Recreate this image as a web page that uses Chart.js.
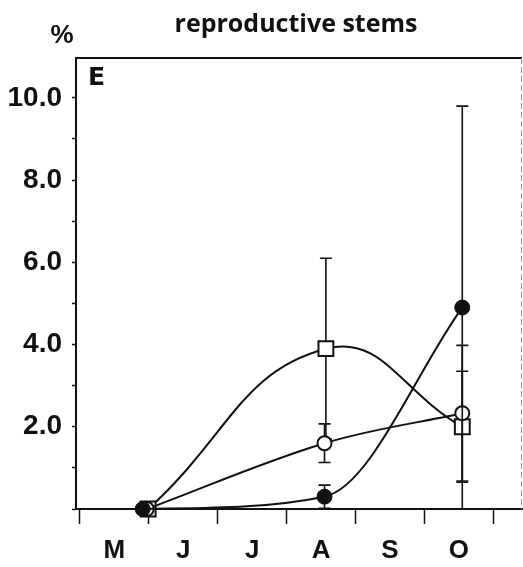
<!DOCTYPE html>
<html>
<head>
<meta charset="utf-8">
<script src="https://cdn.jsdelivr.net/npm/chart.js@4/dist/chart.umd.min.js"></script>
<style>
  html, body { margin: 0; padding: 0; background: #fff; }
  canvas { display: block; }
</style>
</head>
<body>
<canvas id="c" width="523" height="567"></canvas>
<script>
// Month initials, May to October (x = months since 1 May)
const months = ['M', 'J', 'J', 'A', 'S', 'O'];
// y tick labels shown every 2 %
const yLabelValues = [2, 4, 6, 8, 10];

// Open squares
const squareX = [0.99, 3.57, 5.55];
const squareY = [0, 3.9, 2.0];
const squareErr = [0, 2.2, 1.35];

// Open circles
const openX = [0.97, 3.55, 5.55];
const openY = [0, 1.6, 2.33];
const openErr = [0, 0.47, 1.65];

// Filled circles
const filledX = [0.91, 3.55, 5.55];
const filledY = [0, 0.3, 4.9];
const filledErr = [0, 0.28, 4.9];

const INK = '#111';
const toPoints = (xs, ys) => xs.map((x, i) => ({ x: x, y: ys[i] }));

// vertical error bars with caps, drawn just beneath each series' markers
const errorBars = {
  id: 'errorBars',
  beforeDatasetDraw(chart, args) {
    const ds = chart.data.datasets[args.index];
    if (!ds.errorBars) return;
    const xs = chart.scales.x, ys = chart.scales.y, ctx = chart.ctx;
    ctx.save();
    ctx.strokeStyle = INK;
    ctx.lineWidth = 1.6;
    ds.data.forEach((p, i) => {
      const e = ds.errorBars[i];
      if (!e) return;
      const px = xs.getPixelForValue(p.x);
      const lo = Math.max(0, p.y - e);
      const top = ys.getPixelForValue(p.y + e);
      const bot = ys.getPixelForValue(lo);
      ctx.beginPath();
      ctx.moveTo(px, top); ctx.lineTo(px, bot);
      ctx.moveTo(px - 6, top); ctx.lineTo(px + 6, top);
      if (lo > 0) { ctx.moveTo(px - 6, bot); ctx.lineTo(px + 6, bot); }
      ctx.stroke();
    });
    ctx.restore();
  }
};

// frame edges, panel letter, unit and heading
const decorations = {
  id: 'decorations',
  afterDraw(chart) {
    const { ctx, chartArea: a } = chart;
    ctx.save();
    ctx.strokeStyle = INK;
    ctx.lineWidth = 2;
    ctx.beginPath();
    ctx.moveTo(a.left - 1, a.top); ctx.lineTo(a.right, a.top);
    ctx.stroke();
    ctx.strokeStyle = '#9a9a9a';
    ctx.lineWidth = 1;
    ctx.setLineDash([6, 3]);
    ctx.beginPath();
    ctx.moveTo(a.right - 0.5, a.top); ctx.lineTo(a.right - 0.5, a.bottom);
    ctx.stroke();
    ctx.setLineDash([]);

    ctx.fillStyle = INK;
    ctx.textBaseline = 'alphabetic';
    ctx.textAlign = 'center';
    ctx.font = 'bold 25px "Open Sans"';
    ctx.fillText('reproductive stems', (a.left + a.right) / 2 - 3, 32);
    ctx.font = 'bold 26px "Liberation Sans"';
    ctx.fillText('%', 62, 43);
    ctx.textAlign = 'left';
    ctx.font = 'bold 25px "DejaVu Sans"';
    ctx.fillText('E', a.left + 12, 85);
    ctx.restore();
  }
};

new Chart(document.getElementById('c'), {
  type: 'scatter',
  data: {
    datasets: [
      {
        data: toPoints(filledX, filledY),
        errorBars: filledErr,
        showLine: true,
        cubicInterpolationMode: 'monotone',
        borderColor: INK,
        borderWidth: 2,
        pointStyle: 'circle',
        pointRadius: 7.5,
        pointBackgroundColor: INK,
        pointBorderColor: INK,
        pointBorderWidth: 1,
        clip: false
      },
      {
        data: toPoints(openX, openY),
        errorBars: openErr,
        showLine: true,
        tension: 0.35,
        borderColor: INK,
        borderWidth: 2,
        pointStyle: 'circle',
        pointRadius: 7,
        pointBackgroundColor: '#fff',
        pointBorderColor: INK,
        pointBorderWidth: 2,
        clip: false
      },
      {
        data: toPoints(squareX, squareY),
        errorBars: squareErr,
        showLine: true,
        tension: 0.45,
        borderColor: INK,
        borderWidth: 2,
        pointStyle: 'rect',
        pointRadius: 10.5,
        pointBackgroundColor: '#fff',
        pointBorderColor: INK,
        pointBorderWidth: 2,
        clip: false
      }
    ]
  },
  options: {
    responsive: false,
    animation: false,
    devicePixelRatio: 1,
    layout: { autoPadding: false, padding: { top: 58, right: 1, left: 0, bottom: 0 } },
    plugins: {
      legend: { display: false },
      tooltip: { enabled: false },
      title: { display: false }
    },
    scales: {
      x: {
        type: 'linear',
        min: -0.058,
        max: 6.417,
        afterBuildTicks: (s) => {
          const t = [];
          for (let i = 0; i <= months.length; i++) {
            t.push({ value: i });
            if (i < months.length) t.push({ value: i + 0.5 });
          }
          s.ticks = t;
        },
        afterFit: (s) => { s.height = 58; s.paddingLeft = 0; s.paddingRight = 0; },
        ticks: {
          autoSkip: false,
          maxRotation: 0,
          padding: 11,
          color: INK,
          font: { family: '"Liberation Sans"', size: 26, weight: 'bold' },
          callback: (v) => Number.isInteger(v) ? '' : months[Math.floor(v)]
        },
        grid: {
          drawOnChartArea: false,
          drawTicks: true,
          tickLength: 15,
          tickWidth: 1.5,
          tickColor: (ctx) => (ctx.tick && Number.isInteger(ctx.tick.value)) ? INK : 'rgba(0,0,0,0)'
        },
        border: { display: true, color: INK, width: 2 }
      },
      y: {
        type: 'linear',
        min: 0,
        max: 10.97,
        afterFit: (s) => { s.width = 76; s.paddingTop = 0; s.paddingBottom = 0; },
        ticks: {
          stepSize: 1,
          includeBounds: false,
          padding: 10,
          color: INK,
          font: { family: '"Liberation Sans"', size: 28, weight: 'bold' },
          callback: (v) => yLabelValues.includes(v) ? v.toFixed(1) : ''
        },
        grid: {
          drawOnChartArea: false,
          drawTicks: true,
          tickLength: 4,
          tickWidth: 1.5,
          tickColor: INK
        },
        border: { display: true, color: INK, width: 2 }
      }
    }
  },
  plugins: [errorBars, decorations]
});
</script>
</body>
</html>
